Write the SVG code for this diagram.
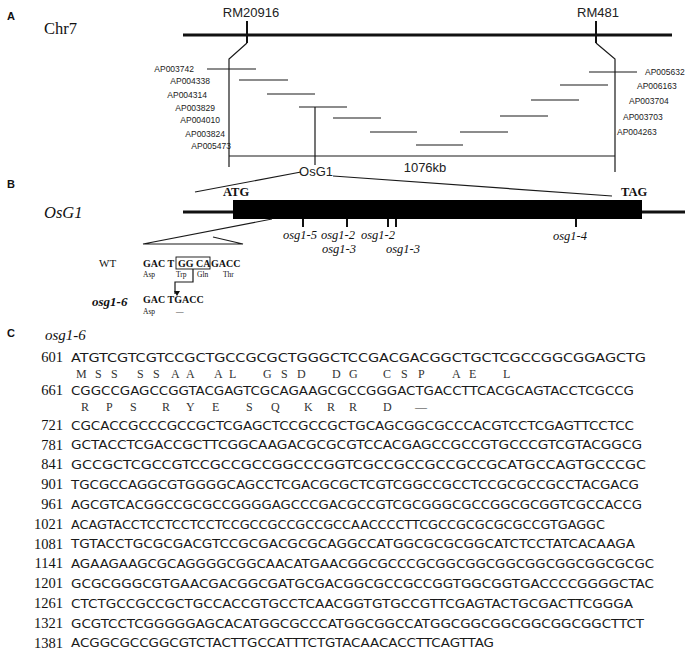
<svg xmlns="http://www.w3.org/2000/svg" width="693" height="653" viewBox="0 0 693 653">
<defs>
<style>
.ln{stroke:#1a1a1a;stroke-width:1.2;fill:none}
.thick{stroke:#111;stroke-width:3;fill:none}
.tick{stroke:#111;stroke-width:2;fill:none}
.lab{font-family:"Liberation Sans",Arial,sans-serif;font-weight:bold;font-size:11px;fill:#111}
.mk{font-family:"Liberation Sans",Arial,sans-serif;font-size:13px;fill:#222}
.ap{font-family:"Liberation Sans",Arial,sans-serif;font-size:8.5px;fill:#222}
.ser{font-family:"Liberation Serif","Times New Roman",serif;fill:#111}
.it{font-family:"Liberation Serif","Times New Roman",serif;font-style:italic;fill:#111}
.bs{font-family:"Liberation Serif","Times New Roman",serif;font-weight:bold;fill:#111}
.seq{font-family:"DejaVu Sans",sans-serif;font-size:13px;fill:#1a1a1a}
.num{font-family:"Liberation Serif","Times New Roman",serif;font-size:14.5px;fill:#111;text-anchor:end}
.aa{font-family:"Liberation Serif","Times New Roman",serif;font-size:12px;fill:#333}
</style>
<marker id="arr" markerWidth="6" markerHeight="6" refX="3" refY="5" orient="auto" markerUnits="userSpaceOnUse">
<path d="M0,0 L3,5 L6,0 Z" fill="#111" transform="rotate(-90 3 3)"/>
</marker>
</defs>
<rect width="693" height="653" fill="#fff"/>

<g id="panelA">
<text class="lab" x="7" y="20">A</text>
<text class="ser" x="44" y="34" font-size="16.5">Chr7</text>
<g id="chromosome">
<line class="thick" x1="183" y1="35" x2="672" y2="35"/>
</g>
<g id="RM20916">
<text class="mk" x="251" y="17" text-anchor="middle">RM20916</text>
<line class="tick" x1="247" y1="21" x2="247" y2="43"/>
</g>
<g id="RM481">
<text class="mk" x="598" y="17" text-anchor="middle">RM481</text>
<line class="tick" x1="596" y1="21" x2="596" y2="43"/>
</g>
<g id="bacs">
<line class="ln" x1="207" y1="69" x2="256" y2="69"/>
<text class="ap" x="194" y="72" text-anchor="end">AP003742</text>
<line class="ln" x1="239" y1="80" x2="288" y2="80"/>
<text class="ap" x="210" y="84" text-anchor="end">AP004338</text>
<line class="ln" x1="267" y1="94" x2="315" y2="94"/>
<text class="ap" x="207" y="98" text-anchor="end">AP004314</text>
<line class="ln" x1="299" y1="107" x2="347" y2="107"/>
<text class="ap" x="215" y="111" text-anchor="end">AP003829</text>
<line class="ln" x1="333" y1="118" x2="381" y2="118"/>
<text class="ap" x="220" y="123" text-anchor="end">AP004010</text>
<line class="ln" x1="370" y1="132" x2="417" y2="132"/>
<text class="ap" x="225" y="137" text-anchor="end">AP003824</text>
<line class="ln" x1="416" y1="145" x2="463" y2="145"/>
<text class="ap" x="231" y="149" text-anchor="end">AP005473</text>
<line class="ln" x1="460" y1="132" x2="508" y2="132"/>
<text class="ap" x="617" y="135">AP004263</text>
<line class="ln" x1="500" y1="116" x2="548" y2="116"/>
<text class="ap" x="623" y="120">AP003703</text>
<line class="ln" x1="531" y1="100" x2="579" y2="100"/>
<text class="ap" x="629" y="104">AP003704</text>
<line class="ln" x1="560" y1="85" x2="608" y2="85"/>
<text class="ap" x="637" y="89">AP006163</text>
<line class="ln" x1="589" y1="72" x2="637" y2="72"/>
<text class="ap" x="645" y="75">AP005632</text>
</g>
<g id="interval">
<polyline class="ln" points="247,43 229,59 229,167"/>
<polyline class="ln" points="596,43 615,59 615,172"/>
<line class="ln" x1="229" y1="156" x2="615" y2="156"/>
<line class="ln" x1="315" y1="107" x2="315" y2="165"/>
<text class="mk" x="425" y="172" text-anchor="middle">1076kb</text>
<text class="mk" x="316" y="176" text-anchor="middle">OsG1</text>
</g>
</g>

<g id="panelB">
<text class="lab" x="7" y="188">B</text>
<text class="it" x="44" y="218" font-size="16.5">OsG1</text>
<g id="zoom-lines">
<line class="ln" x1="195" y1="192" x2="301" y2="172"/>
<line class="ln" x1="333" y1="176" x2="612" y2="196"/>
</g>
<g id="gene">
<line class="thick" x1="183" y1="212" x2="685" y2="212"/>
<rect x="233" y="200" width="409" height="19" fill="#000"/>
<text class="bs" x="223" y="196" font-size="12.5">ATG</text>
<text class="bs" x="621" y="196" font-size="12.5">TAG</text>
</g>
<g id="mutations">
<line class="tick" x1="303" y1="219" x2="303" y2="227"/>
<line class="tick" x1="347" y1="219" x2="347" y2="227"/>
<line class="tick" x1="388" y1="219" x2="388" y2="227"/>
<line class="tick" x1="396" y1="219" x2="396" y2="227"/>
<line class="tick" x1="576" y1="219" x2="576" y2="227"/>
<text class="it" x="283" y="239" font-size="12.5">osg1-5</text>
<text class="it" x="321" y="239" font-size="12.5">osg1-2</text>
<text class="it" x="322" y="253" font-size="12.5">osg1-3</text>
<text class="it" x="361" y="239" font-size="12.5">osg1-2</text>
<text class="it" x="386" y="253" font-size="12.5">osg1-3</text>
<text class="it" x="553" y="240" font-size="12.5">osg1-4</text>
</g>
<g id="wt-detail">
<polyline class="ln" points="272,219 143,244 243,244 213,237"/>
<text class="ser" x="99" y="267" font-size="11">WT</text>
<text class="bs" x="143" y="267" font-size="10">GAC T</text>
<text class="bs" x="178" y="267" font-size="10">GG CA</text>
<text class="bs" x="211" y="267" font-size="10">GACC</text>
<rect x="176" y="257" width="34" height="12" fill="none" stroke="#111" stroke-width="0.9"/>
<text class="ser" x="143" y="277" font-size="7.5">Asp</text>
<text class="ser" x="176" y="277" font-size="7.5">Trp</text>
<text class="ser" x="197" y="277" font-size="7.5">Gln</text>
<text class="ser" x="223" y="277" font-size="7.5">Thr</text>
<polyline class="ln" points="193,269 193,282 175,282 175,294" marker-end="url(#arr)"/>
<text class="it" x="92" y="306" font-size="13" font-weight="bold">osg1-6</text>
<text class="bs" x="143" y="303" font-size="10">GAC TGACC</text>
<text class="ser" x="143" y="314" font-size="7.5">Asp</text>
<text class="ser" x="176" y="314" font-size="7.5">—</text>
</g>
</g>

<g id="panelC">
<text class="lab" x="7" y="337">C</text>
<text class="it" x="45" y="340" font-size="15">osg1-6</text>
<g id="numbers">
<text class="num" x="63" y="362">601</text>
<text class="num" x="63" y="395">661</text>
<text class="num" x="63" y="430">721</text>
<text class="num" x="63" y="449.5">781</text>
<text class="num" x="63" y="469.3">841</text>
<text class="num" x="63" y="489.1">901</text>
<text class="num" x="63" y="508.9">961</text>
<text class="num" x="63" y="528.7">1021</text>
<text class="num" x="63" y="548.5">1081</text>
<text class="num" x="63" y="568.3">1141</text>
<text class="num" x="63" y="588.1">1201</text>
<text class="num" x="63" y="607.9">1261</text>
<text class="num" x="63" y="627.7">1321</text>
<text class="num" x="63" y="647.5">1381</text>
</g>
<g id="sequence">
<text class="seq" x="71" y="361.5" textLength="575" lengthAdjust="spacingAndGlyphs">ATGTCGTCGTCCGCTGCCGCGCTGGGCTCCGACGACGGCTGCTCGCCGGCGGAGCTG</text>
<text class="seq" x="71" y="394.5" textLength="563" lengthAdjust="spacingAndGlyphs">CGGCCGAGCCGGTACGAGTCGCAGAAGCGCCGGGACTGACCTTCACGCAGTACCTCGCCG</text>
<text class="seq" x="71" y="429.5" textLength="563" lengthAdjust="spacingAndGlyphs">CGCACCGCCCGCCGCTCGAGCTCCGCCGCTGCAGCGGCGCCCACGTCCTCGAGTTCCTCC</text>
<text class="seq" x="71" y="449.3" textLength="571" lengthAdjust="spacingAndGlyphs">GCTACCTCGACCGCTTCGGCAAGACGCGCGTCCACGAGCCGCCGTGCCCGTCGTACGGCG</text>
<text class="seq" x="71" y="469.1" textLength="575" lengthAdjust="spacingAndGlyphs">GCCGCTCGCCGTCCGCCGCCGGCCCGGTCGCCGCCGCCGCCGCATGCCAGTGCCCGC</text>
<text class="seq" x="71" y="488.9" textLength="568" lengthAdjust="spacingAndGlyphs">TGCGCCAGGCGTGGGGCAGCCTCGACGCGCTCGTCGGCCGCCTCCGCGCCGCCTACGACG</text>
<text class="seq" x="71" y="508.7" textLength="571" lengthAdjust="spacingAndGlyphs">AGCGTCACGGCCGCGCCGGGGAGCCCGACGCCGTCGCGGGCGCCGGCGCGGTCGCCACCG</text>
<text class="seq" x="71" y="528.5" textLength="534" lengthAdjust="spacingAndGlyphs">ACAGTACCTCCTCCTCCTCCGCCGCCGCCGCCAACCCCTTCGCCGCGCGCGCCGTGAGGC</text>
<text class="seq" x="71" y="548.3" textLength="564" lengthAdjust="spacingAndGlyphs">TGTACCTGCGCGACGTCCGCGACGCGCAGGCCATGGCGCGCGGCATCTCCTATCACAAGA</text>
<text class="seq" x="71" y="568.1" textLength="583" lengthAdjust="spacingAndGlyphs">AGAAGAAGCGCAGGGGCGGCAACATGAACGGCGCCCGCGGCGGCGGCGGCGGCGGCGCGC</text>
<text class="seq" x="71" y="587.9" textLength="583" lengthAdjust="spacingAndGlyphs">GCGCGGGCGTGAACGACGGCGATGCGACGGCGCCGCCGGTGGCGGTGACCCCGGGGCTAC</text>
<text class="seq" x="71" y="607.7" textLength="562" lengthAdjust="spacingAndGlyphs">CTCTGCCGCCGCTGCCACCGTGCCTCAACGGTGTGCCGTTCGAGTACTGCGACTTCGGGA</text>
<text class="seq" x="71" y="627.5" textLength="573" lengthAdjust="spacingAndGlyphs">GCGTCCTCGGGGGAGCACATGGCGCCCATGGCGGCCATGGCGGCGGCGGCGGCGGCTTCT</text>
<text class="seq" x="71" y="647.3" textLength="423" lengthAdjust="spacingAndGlyphs">ACGGCGCCGGCGTCTACTTGCCATTTCTGTACAACACCTTCAGTTAG</text>
</g>
<g id="protein">
<text class="aa" y="377.5"><tspan x="76">M</tspan><tspan x="95">S</tspan><tspan x="111">S</tspan><tspan x="137">S</tspan><tspan x="153">S</tspan><tspan x="171">A</tspan><tspan x="186">A</tspan><tspan x="214">A</tspan><tspan x="229">L</tspan><tspan x="263">G</tspan><tspan x="281">S</tspan><tspan x="297">D</tspan><tspan x="332">D</tspan><tspan x="349">G</tspan><tspan x="383">C</tspan><tspan x="401">S</tspan><tspan x="418">P</tspan><tspan x="452">A</tspan><tspan x="469">E</tspan><tspan x="503">L</tspan></text>
<text class="aa" y="410.5"><tspan x="81">R</tspan><tspan x="106">P</tspan><tspan x="130">S</tspan><tspan x="162">R</tspan><tspan x="186">Y</tspan><tspan x="212">E</tspan><tspan x="246">S</tspan><tspan x="271">Q</tspan><tspan x="304">K</tspan><tspan x="327">R</tspan><tspan x="349">R</tspan><tspan x="383">D</tspan><tspan x="415">—</tspan></text>
</g>
</g>
</svg>
